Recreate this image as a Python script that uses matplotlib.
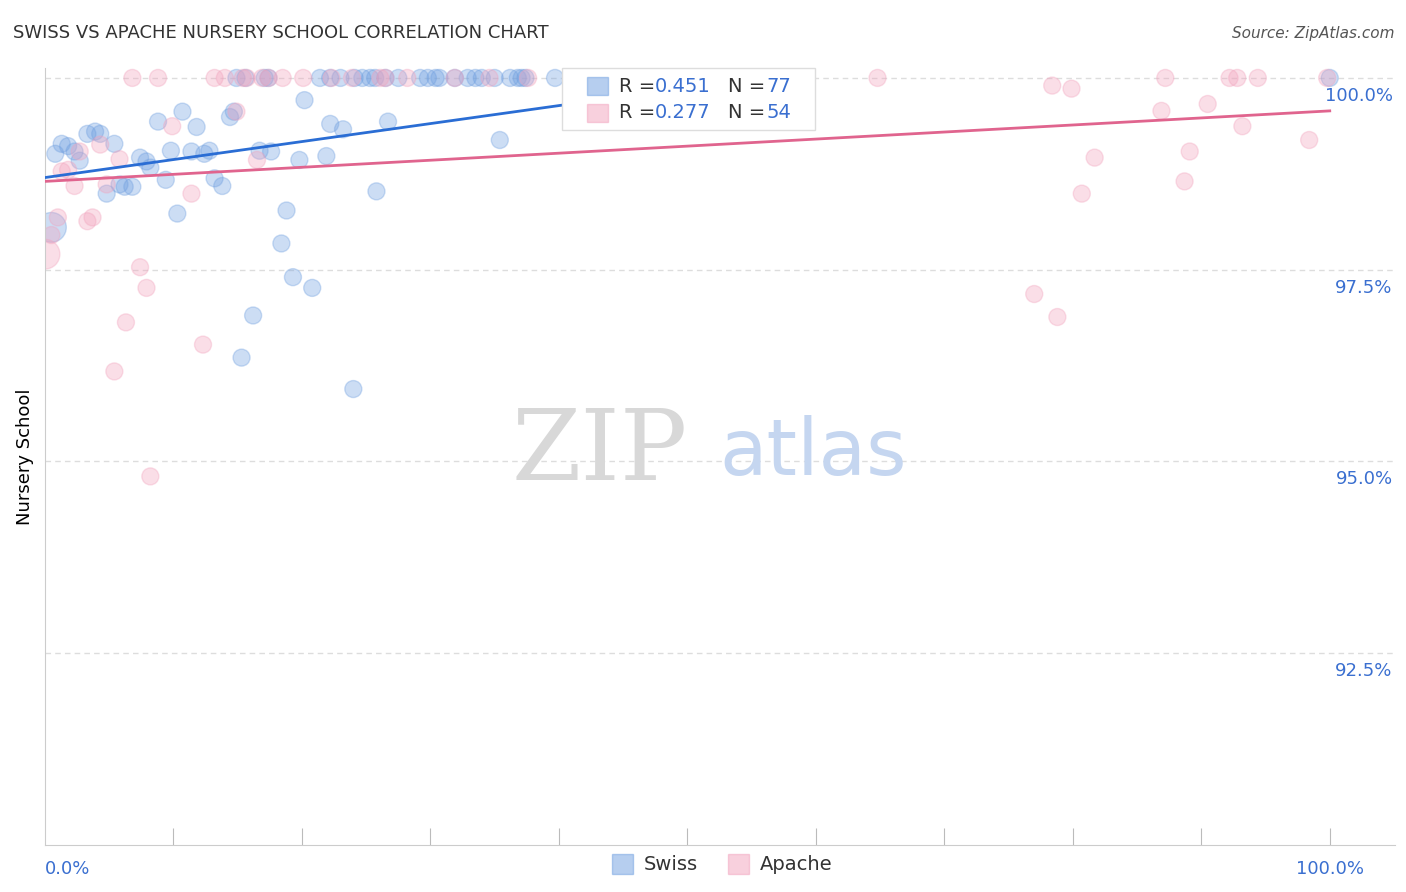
import matplotlib
matplotlib.use("Agg")
import matplotlib.pyplot as plt
from matplotlib.patches import Rectangle
import matplotlib.transforms as mtrans

swiss_x = [0.5,0.8,1.3,1.8,2.3,2.7,3.3,3.9,4.3,4.8,5.4,5.8,6.2,6.8,7.4,7.9,8.2,8.8,9.4,9.8,10.3,10.7,11.4,11.8,12.4,12.8,13.2,13.8,14.4,14.7,15.3,16.2,16.7,17.6,18.8,18.4,19.3,19.8,20.2,20.8,21.9,22.2,23.2,24.0,25.8,26.7,35.4,100,
           14.9,15.6,17.1,17.4,21.4,22.2,23.0,24.1,24.7,25.3,25.7,26.5,27.5,29.2,29.8,30.4,30.7,31.9,32.9,33.5,34.0,35.0,36.2,36.8,37.1,37.4,39.7,41.6,44.0,46.3,47.9,50.2,52.5]
swiss_y = [98.05,99.01,99.14,99.11,99.04,98.92,99.27,99.30,99.27,98.49,99.14,98.61,98.58,98.58,98.96,98.91,98.83,99.43,98.67,99.05,98.23,99.56,99.04,99.36,99.01,99.05,98.69,98.59,99.49,99.56,96.35,96.90,99.05,99.04,98.27,97.84,97.40,98.93,99.71,97.26,98.98,99.40,99.33,95.94,98.52,99.43,99.19,100] + [100]*33
swiss_s = [460] + [150]*80

apache_x = [0,0.5,1.0,1.3,1.8,2.3,2.7,3.3,3.7,4.3,4.8,5.4,5.8,6.3,6.8,7.4,7.9,8.2,8.8,9.9,11.4,12.3,
            13.2,14.0,15.4,15.7,16.9,17.4,18.5,20.1,22.3,23.9,26.1,26.5,28.2,31.9,34.6,37.6,
            14.9,16.5,64.8,77.0,78.4,78.8,79.9,80.7,81.7,86.9,87.2,88.7,89.1,90.5,92.2,92.8,93.2,94.4,98.4,99.8]
apache_y = [97.70,97.95,98.18,98.78,98.80,98.59,99.04,98.13,98.18,99.13,98.61,96.17,98.94,96.81,100,97.53,97.26,94.80,100,99.37,98.49,96.52] + [100]*16 + \
           [99.56,98.93,100,97.18,99.90,96.88,99.86,98.49,98.96,99.57,100,98.65,99.04,99.66,100,100,99.37,100,99.19,100]
apache_s = [460] + [150]*(len(apache_x)-1)

swiss_line = ([0, 54.1], [98.70, 99.97])
apache_line = ([0, 100], [98.65, 99.57])
y_ticks = [100.0, 97.5, 95.0, 92.5]

BLUE = "#6f9fe0"; BLUE_LINE = "#2a6dd4"
PINK = "#f2a3bd"; PINK_LINE = "#e0648e"
LABEL = "#3a6fd0"

fig = plt.figure(figsize=(14.06, 8.92), dpi=100)
ax = fig.add_axes([0.032, 0.0527, 0.96, 0.8711])
ax.set_xlim(0, 105.06)
ax.set_ylim(89.99, 100.13)

for y in y_ticks:
    ax.axhline(y, color="#dddddd", lw=1, ls=(0, (4, 3)), zorder=0)

ax.scatter(swiss_x, swiss_y, s=swiss_s, facecolor=BLUE, alpha=0.35, edgecolor=BLUE, linewidth=1, zorder=2)
ax.scatter(apache_x, apache_y, s=apache_s, facecolor=PINK, alpha=0.35, edgecolor=PINK, linewidth=1, zorder=2)
ax.plot(*swiss_line, color=BLUE_LINE, lw=2, zorder=3)
ax.plot(*apache_line, color=PINK_LINE, lw=2, zorder=3)

for s in ["top", "right"]:
    ax.spines[s].set_visible(False)
ax.spines["left"].set_color("#cccccc")
ax.spines["bottom"].set_color("#cccccc")
ax.set_yticks([])
ax.set_xticks(range(10, 101, 10))
ax.tick_params(axis="x", direction="in", length=12, color="#bbbbbb", labelbottom=False)

tr = mtrans.blended_transform_factory(ax.transAxes, ax.transData)
for y in y_ticks:
    ax.text(0.9985, y - 0.12, f"{y:.1f}%", transform=tr, ha="right", va="top", color=LABEL, fontsize=13)
ax.text(0, 89.8, "0.0%", ha="left", va="top", color=LABEL, fontsize=13)
ax.text(100, 89.8, "100.0%", ha="center", va="top", color=LABEL, fontsize=13)
ax.set_ylabel("Nursery School", fontsize=13, labelpad=8)

ax.text(50, 95.1, "ZIP", fontsize=72, family="DejaVu Serif", color="#d8d8d8", ha="right", va="center", zorder=1)
ax.text(52.5, 95.1, "atlas", fontsize=56, color="#c5d6f0", ha="left", va="center", zorder=1)

fig.text(0.009, 0.963, "SWISS VS APACHE NURSERY SCHOOL CORRELATION CHART", fontsize=13, color="#333333", va="center")
fig.text(0.992, 0.963, "Source: ZipAtlas.com", fontsize=11, color="#555555", style="italic", ha="right", va="center")

ft = fig.transFigure
# top legend (drawn in axes so it sits above points)
ax.add_patch(Rectangle((562/1406, 1-130/892), 253/1406, 62/892, transform=ft, facecolor="white", edgecolor="#dddddd", zorder=10, clip_on=False))
for i, (c, r, n) in enumerate([(BLUE, "0.451", "77"), (PINK, "0.277", "54")]):
    yc = 1 - (86 + 27*i)/892
    ax.add_patch(Rectangle((587/1406, yc-9/892), 21/1406, 18/892, transform=ft, facecolor=c, alpha=0.5, edgecolor=c, zorder=11, clip_on=False))
    ax.text(619/1406, yc, "R =", fontsize=14, color="#333333", va="center", transform=ft, zorder=12)
    ax.text(655/1406, yc, r, fontsize=14, color=LABEL, va="center", transform=ft, zorder=12)
    ax.text(728/1406, yc, "N =", fontsize=14, color="#333333", va="center", transform=ft, zorder=12)
    ax.text(766/1406, yc, n, fontsize=14, color=LABEL, va="center", transform=ft, zorder=12)

# bottom legend
for x0, c, lab in [(612, BLUE, "Swiss"), (728, PINK, "Apache")]:
    yc = 1 - 864/892
    fig.patches.append(Rectangle((x0/1406, yc-10/892), 21/1406, 20/892, transform=ft, facecolor=c, alpha=0.5, edgecolor=c))
    fig.text((x0+32)/1406, yc, lab, fontsize=14, color="#333333", va="center")

fig.savefig("out.png", dpi=100)
